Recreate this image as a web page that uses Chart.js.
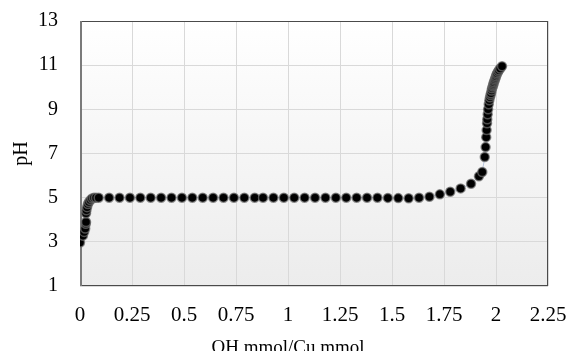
<!DOCTYPE html>
<html>
<head>
<meta charset="utf-8">
<script src="https://cdn.jsdelivr.net/npm/chart.js@4.4.1/dist/chart.umd.min.js"></script>
<style>
  body { margin: 0; background: #fff; }
</style>
</head>
<body>
<canvas id="titration" width="568" height="351"></canvas>
<script>
const ohRatio = [
    0, 0.014, 0.02, 0.025, 0.028, 0.029, 0.029, 0.031, 0.034, 0.038, 0.043, 0.05, 0.058, 0.067, 0.077,
    0.09, 0.14, 0.19, 0.24, 0.29, 0.34, 0.39, 0.44, 0.49, 0.54, 0.59, 0.64, 0.69, 0.74, 0.79,
    0.84, 0.88, 0.93, 0.98, 1.03, 1.08, 1.13, 1.18, 1.23, 1.28, 1.33, 1.38, 1.43, 1.48, 1.53,
    1.58, 1.63, 1.68, 1.73, 1.78, 1.83, 1.88, 1.918, 1.934, 1.946, 1.95, 1.953, 1.955, 1.957, 1.958,
    1.96, 1.962, 1.965, 1.968, 1.971, 1.974, 1.976, 1.979, 1.981, 1.984, 1.986, 1.988, 1.99, 1.993,
    1.995, 1.998, 2.0, 2.003, 2.005, 2.01, 2.014, 2.02, 2.029
];
const phValues = [
    2.97, 3.28, 3.45, 3.6, 3.82, 3.9, 4.29, 4.43, 4.57, 4.71, 4.8, 4.89, 4.96, 5.0, 5.0,
    5.0, 5.0, 5.0, 5.0, 5.0, 5.0, 5.0, 5.0, 5.0, 5.0, 5.0, 5.0, 5.0, 5.0, 5.0,
    5.0, 5.0, 5.0, 5.0, 5.0, 5.0, 5.0, 5.0, 5.0, 5.0, 5.0, 5.0, 5.0, 4.99, 4.98,
    4.97, 5.0, 5.04, 5.15, 5.27, 5.42, 5.63, 5.97, 6.16, 6.84, 7.29, 7.74, 8.06, 8.37, 8.55,
    8.78, 9.0, 9.23, 9.41, 9.55, 9.65, 9.73, 9.85, 9.95, 10.03, 10.09, 10.16, 10.23, 10.3,
    10.36, 10.43, 10.5, 10.57, 10.63, 10.7, 10.77, 10.85, 10.95
];
const xTickLabels = ["0", "0.25", "0.5", "0.75", "1", "1.25", "1.5", "1.75", "2", "2.25"];
const yTickLabels = ["1", "3", "5", "7", "9", "11", "13"];
const xTitle = "OH mmol/Cu mmol";
const yTitle = "pH";

const points = ohRatio.map((x, i) => ({ x: x, y: phValues[i] }));

// PLOT AREA: grey fade, frame and the x title (centred on the page, not the axis)
const plotArea = {
    id: "plotArea",
    beforeDraw(chart) {
        const { ctx, chartArea: a } = chart;
        const g = ctx.createLinearGradient(0, a.top, 0, a.bottom);
        g.addColorStop(0, "#ffffff");
        g.addColorStop(1, "#ececec");
        ctx.save();
        ctx.fillStyle = g;
        ctx.fillRect(a.left, a.top, a.width, a.height);
        ctx.restore();
    },
    beforeDatasetsDraw(chart) {
        const { ctx, chartArea: a } = chart;
        ctx.save();
        ctx.strokeStyle = "#4a4a4a";
        ctx.lineWidth = 1;
        ctx.strokeRect(a.left + 0.5, a.top + 0.5, a.width - 1, a.height - 1);
        ctx.strokeStyle = "#7a7a7a";
        ctx.lineWidth = 2;
        ctx.beginPath();
        ctx.moveTo(a.left + 1, a.top);
        ctx.lineTo(a.left + 1, a.bottom);
        ctx.stroke();
        ctx.restore();
    },
    afterDraw(chart) {
        const ctx = chart.ctx;
        ctx.save();
        ctx.font = "19px 'Liberation Serif'";
        ctx.fillStyle = "#000";
        ctx.textAlign = "center";
        ctx.textBaseline = "alphabetic";
        ctx.fillText(xTitle, 288, 353);
        ctx.restore();
    }
};

// scales keep their own label margins otherwise; the layout padding decides instead
function noMargins(s) {
    s.paddingTop = 0; s.paddingBottom = 0; s.paddingLeft = 0; s.paddingRight = 0;
}

new Chart(document.getElementById("titration"), {
    type: "scatter",
    data: {
        datasets: [{
            data: points,
            showLine: true,
            borderColor: "rgba(110,140,190,0.45)",
            borderWidth: 1,
            pointRadius: 4.5,
            pointBackgroundColor: "#000",
            pointBorderColor: "rgba(110,110,110,0.7)",
            pointBorderWidth: 1.5
        }]
    },
    plugins: [plotArea],
    options: {
        responsive: false,
        animation: false,
        layout: { padding: { left: 0, right: 20, top: 21, bottom: 0 } },
        plugins: { legend: { display: false }, tooltip: { enabled: false } },
        scales: {
            x: {
                type: "linear",
                min: 0, max: 2.25,
                afterFit: s => { s.height = 65; noMargins(s); },
                afterBuildTicks: s => { s.ticks = xTickLabels.map((t, i) => ({ value: i * 0.25 })); },
                ticks: {
                    callback: (v, i) => xTickLabels[i],
                    autoSkip: false, maxRotation: 0,
                    padding: 17,
                    color: "#000",
                    font: { family: "Liberation Serif", size: 21 }
                },
                grid: { color: "#d9d9d9", drawTicks: false },
                border: { display: false }
            },
            y: {
                min: 1, max: 13,
                afterFit: s => { s.width = 80; noMargins(s); },
                afterBuildTicks: s => { s.ticks = yTickLabels.map(t => ({ value: Number(t) })); },
                ticks: {
                    callback: (v, i) => yTickLabels[i],
                    padding: 22,
                    color: "#000",
                    font: { family: "Liberation Serif", size: 20 }
                },
                title: {
                    display: true, text: yTitle, color: "#000",
                    font: { family: "Liberation Serif", size: 20 },
                    padding: { top: 10, bottom: 10 }
                },
                grid: { color: "#d9d9d9", drawTicks: false },
                border: { display: false }
            }
        }
    }
});
</script>
</body>
</html>
